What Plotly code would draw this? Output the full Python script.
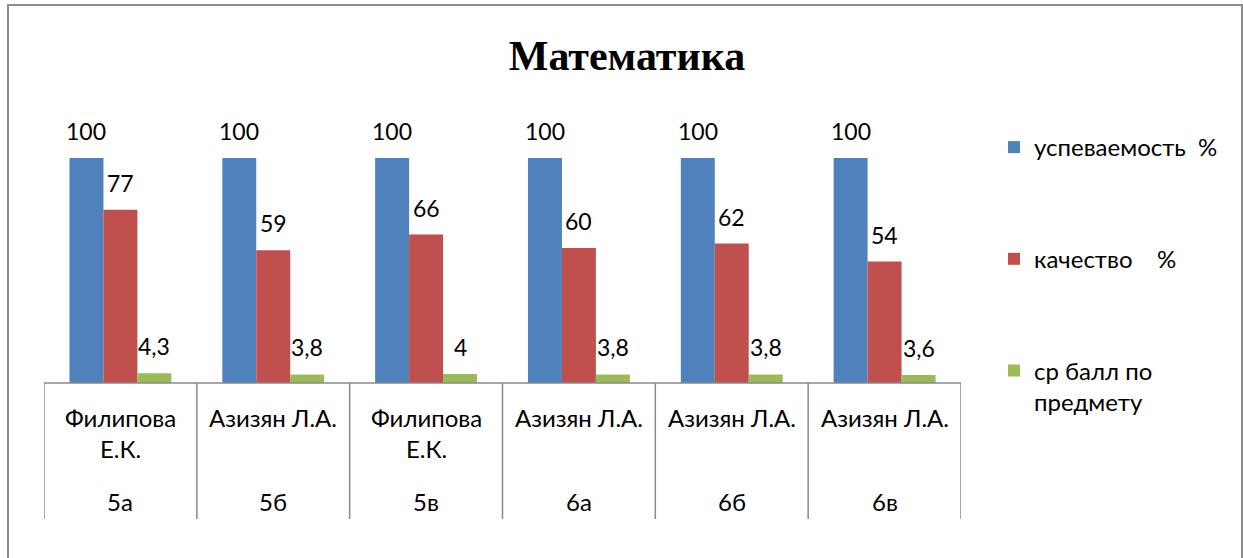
import plotly.graph_objects as go

classes = ["5а", "5б", "5в", "6а", "6б", "6в"]
teachers = ["Филипова<br>Е.К.", "Азизян Л.А.", "Филипова<br>Е.К.", "Азизян Л.А.", "Азизян Л.А.", "Азизян Л.А."]
series_names = ["успеваемость\u00a0\u00a0%", "качество\u00a0\u00a0\u00a0\u00a0%", "ср балл по<br>предмету"]
uspev = [100, 100, 100, 100, 100, 100]
kachestvo = [77, 59, 66, 60, 62, 54]
sr_ball = [4.3, 3.8, 4, 3.8, 3.8, 3.6]
colors = ["#4F81BD", "#C0504D", "#9BBB59"]

W, H = 1243, 558
AXIS_PX = 383          # pixel row of the category axis
SCALE = 2.25           # pixels per value unit
L, R, T, B = 44, 282, 103, 25
PW, PH = W - L - R, H - T - B
FONT = "Lato, 'Open Sans', sans-serif"
TXT = 24
NUM = 23

def px_x(p):
    return (p - L) / PW

def px_y(p):
    return (H - B - p) / PH

fig = go.Figure()
all_series = [uspev, kachestvo, sr_ball]
for name, vals, col in zip(series_names, all_series, colors):
    fig.add_trace(go.Bar(x=classes, y=vals, name=name, marker=dict(color=col, line=dict(width=0)),
                         legendgroup=name))

bargap = 1 / 3
bw = (1 - bargap) / 3
annotations = []
for k, vals in enumerate(all_series):
    off = (k - 1) * bw
    for i, v in enumerate(vals):
        txt = ("%g" % v).replace(".", ",")
        annotations.append(dict(x=i + off, y=v, xref="x", yref="y", text=txt, showarrow=False,
                                yanchor="middle", yshift=27, font=dict(size=NUM, color="black", family=FONT)))

for i, (t, c) in enumerate(zip(teachers, classes)):
    annotations.append(dict(x=i, y=px_y(401), xref="x", yref="paper", text=t, showarrow=False,
                            yanchor="top", font=dict(size=TXT, color="black", family=FONT)))
    annotations.append(dict(x=i, y=px_y(501), xref="x", yref="paper", text=c, showarrow=False,
                            yanchor="middle", font=dict(size=TXT, color="black", family=FONT)))

shapes = []
for i in range(len(classes) + 1):
    shapes.append(dict(type="line", xref="x", yref="paper", x0=i - 0.5, x1=i - 0.5,
                       y0=px_y(AXIS_PX), y1=px_y(519), line=dict(color="#888888", width=1.5)))
shapes.append(dict(type="line", xref="x", yref="y", x0=-0.5, x1=len(classes) - 0.5, y0=0, y1=0,
                   line=dict(color="#888888", width=1.5)))
shapes.append(dict(type="rect", xref="paper", yref="paper", x0=px_x(8), x1=px_x(1242), y0=px_y(5), y1=px_y(575),
                   line=dict(color="#8c8c8c", width=2)))

fig.update_layout(
    width=W, height=H,
    margin=dict(l=L, r=R, t=T, b=B),
    paper_bgcolor="white", plot_bgcolor="white",
    barmode="group", bargap=bargap, bargroupgap=0,
    title=dict(text="<b>Математика</b>", x=627 / W, xanchor="center", y=1 - 55 / H, yanchor="middle",
               font=dict(family="'Liberation Serif', 'Times New Roman', serif", size=42, color="black")),
    xaxis=dict(type="category", range=[-0.5, len(classes) - 0.5], showticklabels=False, showgrid=False,
               showline=False, ticks="", zeroline=False),
    yaxis=dict(range=[-(H - B - AXIS_PX) / SCALE, (AXIS_PX - T) / SCALE], visible=False,
               showgrid=False, zeroline=False),
    legend=dict(x=px_x(994), y=px_y(125), xanchor="left", yanchor="top",
                tracegroupgap=77.5, font=dict(size=TXT, color="black", family=FONT), valign="top",
                bgcolor="rgba(0,0,0,0)"),
    annotations=annotations,
    shapes=shapes,
    showlegend=True,
)

fig.write_html("out.html", config={"displayModeBar": False},
               post_script="document.body.style.margin='0px';")
